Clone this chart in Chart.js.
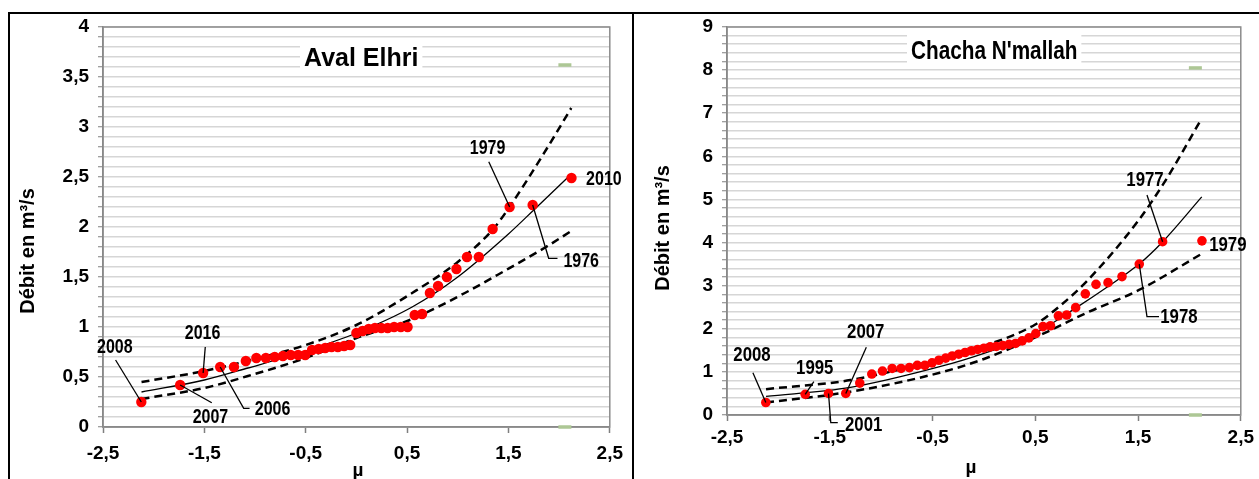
<!DOCTYPE html>
<html><head><meta charset="utf-8">
<script src="https://cdn.jsdelivr.net/npm/chart.js@4"></script>
<style>
html,body{margin:0;padding:0;background:#fff;width:1259px;height:479px;overflow:hidden;}
canvas{position:absolute;top:0;}
.ln{position:absolute;background:#000;}
</style></head><body>
<canvas id="c1" width="632" height="479" style="left:0"></canvas>
<canvas id="c2" width="625" height="479" style="left:634px"></canvas>
<div class="ln" style="left:8px;top:12px;width:1251px;height:2px"></div>
<div class="ln" style="left:8px;top:12px;width:2px;height:467px"></div>
<div class="ln" style="left:632px;top:12px;width:2px;height:467px"></div>
<script>
// ---- data ----
const mu = [-2.122,-1.739,-1.512,-1.344,-1.208,-1.091,-0.987,-0.893,-0.806,-0.725,-0.648,-0.575,-0.505,-0.438,-0.372,-0.308,-0.245,-0.183,-0.121,-0.061,0,0.061,0.121,0.183,0.245,0.308,0.372,0.438,0.505,0.575,0.648,0.725,0.806,0.893,0.987,1.091,1.208,1.344,1.512,1.739,2.122];
const qAval = [0.25,0.42,0.54,0.60,0.60,0.66,0.69,0.69,0.70,0.71,0.72,0.72,0.72,0.77,0.78,0.79,0.80,0.80,0.81,0.82,0.94,0.96,0.98,0.99,0.99,0.99,1.00,1.00,1.00,1.12,1.13,1.34,1.41,1.50,1.58,1.70,1.70,1.98,2.20,2.22,2.49];
const qChacha = [0.29,0.48,0.50,0.50,0.74,0.95,1.02,1.08,1.08,1.10,1.15,1.15,1.21,1.27,1.32,1.37,1.41,1.45,1.49,1.52,1.55,1.58,1.59,1.61,1.64,1.66,1.72,1.79,1.89,2.05,2.07,2.30,2.32,2.49,2.81,3.03,3.07,3.21,3.50,4.02,4.04];

const avalFitMu = [-2.12,-1.5,-1.07,-0.5,0,0.55,1.0,1.5,1.75,2.09];
const avalFit   = [0.35,0.47,0.59,0.76,0.94,1.20,1.50,1.93,2.17,2.50];
const avalUpMu  = [-2.12,-1.5,-1.0,-0.5,0,0.55,1.0,1.35,1.51,1.87,2.12];
const avalUp    = [0.45,0.56,0.68,0.82,1.02,1.34,1.65,1.98,2.20,2.77,3.19];
const avalLoMu  = [-2.12,-1.5,-1.07,-0.5,0,0.55,1.07,1.46,1.87,2.12];
const avalLo    = [0.28,0.39,0.51,0.69,0.89,1.08,1.34,1.56,1.80,1.96];

const chaFitMu = [-2.12,-1.3,-0.43,0,0.5,0.9,1.19,1.51,1.74,2.12];
const chaFit   = [0.43,0.64,1.12,1.43,1.90,2.49,2.95,3.50,4.02,5.06];
const chaUpMu  = [-2.12,-1.3,-0.43,0,0.5,0.75,1.0,1.5,1.77,2.12];
const chaUp    = [0.60,0.81,1.30,1.60,2.10,2.55,3.10,4.50,5.45,6.88];
const chaLoMu  = [-2.12,-1.3,-0.43,0,0.5,0.99,1.51,2.12];
const chaLo    = [0.29,0.54,0.98,1.30,1.80,2.36,2.90,3.74];

const avalMarks = [[2.057,3.62],[2.057,0]];
const chaMarks  = [[2.058,8.05],[2.058,0]];

const xTicks = [-2.5,-1.5,-0.5,0.5,1.5,2.5];

const avalNotes = [
  {text:'2008', at:[-2.383,0.80], idx:0,  via:[[-2.376,0.67]]},
  {text:'2016', at:[-1.518,0.94], idx:2,  via:[[-1.491,0.80]]},
  {text:'2007', at:[-1.44,0.10],  idx:1,  via:[[-1.427,0.243]]},
  {text:'2006', at:[-0.827,0.18], idx:3,  via:[[-1.112,0.187],[-1.054,0.187]]},
  {text:'1979', at:[1.294,2.79],  idx:38, via:[[1.306,2.653]]},
  {text:'2010', at:[2.442,2.48],  idx:40, via:[]},
  {text:'1976', at:[2.218,1.66],  idx:39, via:[[1.897,1.687],[1.984,1.687]]}
];
const chaNotes = [
  {text:'2008', at:[-2.257,1.392], idx:0,  via:[[-2.248,0.981]]},
  {text:'1995', at:[-1.646,1.09],  idx:1,  via:[[-1.655,0.772]]},
  {text:'2007', at:[-1.150,1.925], idx:3,  via:[[-1.144,1.570]]},
  {text:'2001', at:[-1.170,-0.232],idx:2,  via:[[-1.490,-0.179],[-1.422,-0.179]]},
  {text:'1977', at:[1.568,5.451],  idx:39, via:[[1.587,5.103]]},
  {text:'1979', at:[2.374,3.943],  idx:40, via:[]},
  {text:'1978', at:[1.898,2.273],  idx:38, via:[[1.587,2.28],[1.704,2.28]]}
];

// ---- drawing ----
const SANS = "'Liberation Sans', Arial, sans-serif";
const fmt = v => String(Math.round(v*10)/10).replace('.', ',');
const pts = (xs, ys) => xs.map((x,i)=>({x, y:ys[i]}));

function narrowText(ctx, text, x, y, sx){
  ctx.save();
  ctx.translate(x, y); ctx.scale(sx, 1);
  ctx.fillText(text, 0, 0);
  ctx.restore();
}

const deco = {
  id:'deco',
  beforeDatasetsDraw(chart, args, o){
    const {ctx, chartArea:a} = chart;
    ctx.save();
    ctx.strokeStyle = '#8c8c8c'; ctx.lineWidth = 1.5;
    ctx.strokeRect(a.left, a.top, a.right-a.left, a.bottom-a.top);
    ctx.font = o.titleFont;
    const w = ctx.measureText(o.title).width * o.titleScale;
    ctx.fillStyle = '#fff';
    ctx.fillRect(o.titleX-4, o.boxTop, w+8, o.boxH);
    ctx.fillStyle = '#000'; ctx.textBaseline = 'middle'; ctx.textAlign = 'left';
    narrowText(ctx, o.title, o.titleX, o.titleY, o.titleScale);
    ctx.restore();
  },
  afterDatasetsDraw(chart, args, o){
    const {ctx, scales:{x, y}} = chart;
    ctx.save();
    ctx.strokeStyle = '#000'; ctx.lineWidth = 1.3;
    ctx.fillStyle = '#000'; ctx.font = o.noteFont;
    ctx.textAlign = 'center'; ctx.textBaseline = 'middle';
    o.notes.forEach(n => {
      if (n.via.length) {
        ctx.beginPath();
        ctx.moveTo(x.getPixelForValue(mu[n.idx]), y.getPixelForValue(o.q[n.idx]));
        n.via.forEach(p => ctx.lineTo(x.getPixelForValue(p[0]), y.getPixelForValue(p[1])));
        ctx.stroke();
      }
      narrowText(ctx, n.text, x.getPixelForValue(n.at[0]), y.getPixelForValue(n.at[1]), 0.8);
    });
    ctx.restore();
  },
  afterDraw(chart, args, o){
    const {ctx} = chart;
    ctx.save();
    ctx.fillStyle = '#000'; ctx.textAlign = 'center'; ctx.textBaseline = 'middle';
    ctx.font = "bold 20px " + SANS;
    ctx.translate(o.yTitle[0], o.yTitle[1]); ctx.rotate(-Math.PI/2);
    ctx.fillText('Débit en m³/s', 0, 0);
    ctx.restore();
    ctx.save();
    ctx.fillStyle = '#000'; ctx.textAlign = 'center'; ctx.textBaseline = 'middle';
    ctx.font = "bold 19px " + SANS;
    ctx.fillText('µ', o.xTitle[0], o.xTitle[1]);
    ctx.restore();
  }
};

function build(id, o){
  const isMult = (v, m) => Math.abs(v/m - Math.round(v/m)) < 1e-6;
  return new Chart(document.getElementById(id), {
    type:'scatter',
    data:{datasets:[
      {data: pts(mu, o.q), pointRadius:o.r, pointBackgroundColor:'#ff0000', pointBorderWidth:0, pointHoverRadius:o.r},
      {data: pts(o.fitMu, o.fit), showLine:true, borderColor:'#000', borderWidth:1.3, pointRadius:0, cubicInterpolationMode:'monotone'},
      {data: pts(o.upMu, o.up), showLine:true, borderColor:'#000', borderWidth:2.5, borderDash:[8,5], pointRadius:0, cubicInterpolationMode:'monotone'},
      {data: pts(o.loMu, o.lo), showLine:true, borderColor:'#000', borderWidth:2.5, borderDash:[8,5], pointRadius:0, cubicInterpolationMode:'monotone'},
      {data: o.marks.map(m=>({x:m[0], y:m[1]})), pointStyle:'line', pointRadius:6.5, borderColor:'#adc795', pointBorderColor:'#adc795', pointBorderWidth:3.5, clip:false}
    ]},
    options:{
      responsive:false, animation:false, devicePixelRatio:1,
      layout:{padding:{left:0, right:o.padRight, top:27, bottom:0}},
      plugins:{legend:{display:false}, tooltip:{enabled:false}, deco:o.deco},
      scales:{
        x:{type:'linear', min:-2.5, max:2.5,
          afterBuildTicks: s => { s.ticks = xTicks.map(v=>({value:v})); },
          afterFit: s => { s.height = o.xh; },
          grid:{drawOnChartArea:false, tickLength:6, tickColor:'#7f7f7f', tickWidth:1.5},
          border:{color:'#7f7f7f', width:1.5},
          ticks:{color:'#000', font:{family:SANS, weight:'bold', size:19}, padding:o.xpad, maxRotation:0, autoSkip:false, callback:v=>fmt(v)}},
        y:{type:'linear', min:0, max:o.ymax,
          afterFit: s => { s.width = o.yw; },
          grid:{color:'#d6d6d6', lineWidth:1.5, tickLength:5, tickColor:'#7f7f7f', tickWidth:1},
          border:{color:'#7f7f7f', width:1.5},
          ticks:{stepSize:o.ystep, autoSkip:false, color:'#000', font:{family:SANS, weight:'bold', size:o.yfont}, padding:9,
                 callback:v => isMult(v, o.ylab) ? fmt(v) : ''}}
      }
    },
    plugins:[deco]
  });
}

build('c1', {q:qAval, fitMu:avalFitMu, fit:avalFit, upMu:avalUpMu, up:avalUp, loMu:avalLoMu, lo:avalLo,
  marks:avalMarks, r:5.2, padRight:15, xh:52, yw:103, ymax:4, ystep:0.1, ylab:0.5, yfont:19, xpad:9,
  deco:{title:'Aval Elhri', titleFont:"bold 25px "+SANS, titleScale:1, titleX:304, titleY:59, boxTop:42, boxH:30,
        notes:avalNotes, q:qAval, noteFont:"bold 20px "+SANS, yTitle:[28,251], xTitle:[358,471]}});
build('c2', {q:qChacha, fitMu:chaFitMu, fit:chaFit, upMu:chaUpMu, up:chaUp, loMu:chaLoMu, lo:chaLo,
  marks:chaMarks, r:4.8, padRight:17, xh:64, yw:93, ymax:9, ystep:0.2, ylab:1, yfont:19, xpad:5,
  deco:{title:"Chacha N'mallah", titleFont:"bold 25px "+SANS, titleScale:0.83, titleX:277, titleY:52, boxTop:34, boxH:32,
        notes:chaNotes, q:qChacha, noteFont:"bold 21px "+SANS, yTitle:[29,228], xTitle:[337,468]}});
</script>
</body></html>
